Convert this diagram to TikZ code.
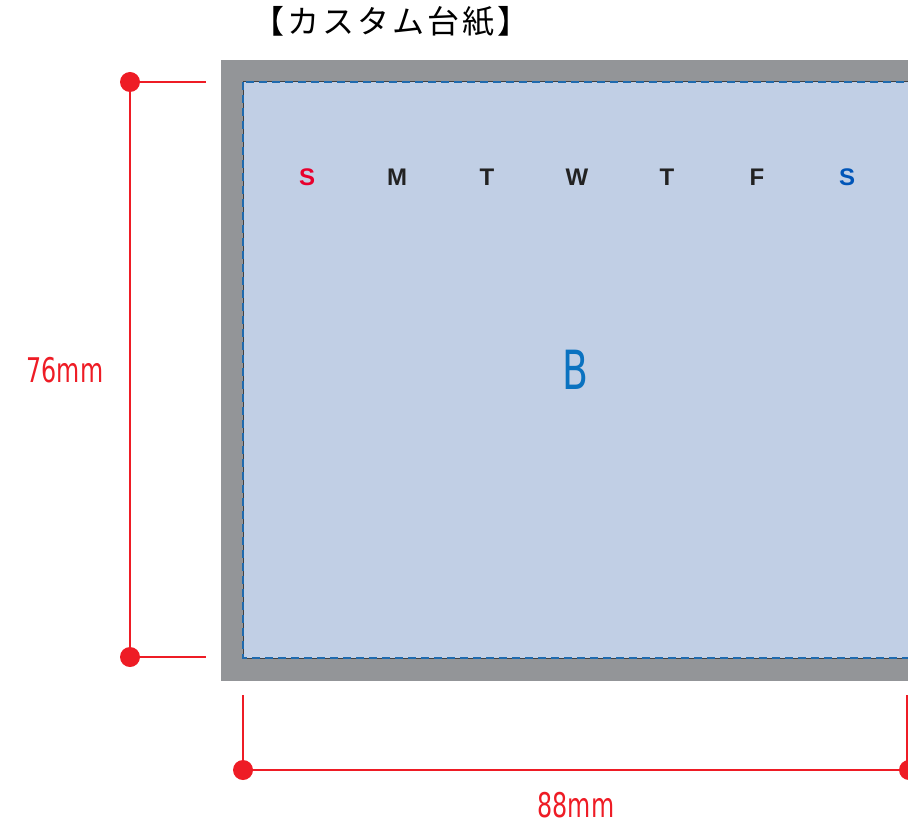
\documentclass[tikz,border=0pt]{standalone}
\usepackage{fontspec}
\setmainfont{Liberation Sans}
\newfontfamily\cjk[LetterSpace=9]{Noto Sans CJK JP}
\newfontfamily\dimfont[FakeStretch=0.7]{DejaVu Sans}
\definecolor{dimred}{HTML}{EE1C25}
\definecolor{mountgray}{HTML}{939598}
\definecolor{cardblue}{HTML}{C1CFE5}
\definecolor{edgeblue}{HTML}{1F6AAE}
\definecolor{sunred}{HTML}{E8002D}
\definecolor{satblue}{HTML}{0055B8}
\definecolor{markblue}{HTML}{0A72C0}
\definecolor{daytext}{HTML}{222222}

\begin{document}
\begin{tikzpicture}[
x=0.5pt, y=-0.5pt,
every node/.style={inner sep=0pt},
]
% \draw [help lines] (0,0) grid (908,823);

\tikzset{
	dim/.style={dimred, line width=1pt},
	dot/.style={fill=dimred},
	day/.style={font=\fontsize{12}{12}\selectfont\bfseries},
	lbl/.style={text=dimred, font=\dimfont\fontsize{17}{17}\selectfont},
}

\useasboundingbox (0,0) rectangle (908,823);

\fill[mountgray] (221,60) rectangle (940,681);
\fill[cardblue] (243,82) rectangle (940,658);
\draw[black!75, line width=0.5pt] (243,82) rectangle (940,658);
\draw[edgeblue, line width=0.6pt, dash pattern=on 4pt off 2.5pt] (243,82) rectangle (940,658);

\node[font=\cjk\fontsize{16}{16}\selectfont] (title) at (391,22) {【カスタム台紙】};

\foreach \d/\c [count=\i] in {S/sunred, M/daytext, T/daytext, W/daytext, T/daytext, F/daytext, S/satblue}
	\node[day, text=\c] (d\i) at ({307+90*(\i-1)},177) {\d};

\node[text=markblue, font=\dimfont\fontsize{27}{27}\selectfont] (mark) at (575,370) {B};

% height
\coordinate (ht) at (130,82);
\coordinate (hb) at (130,657);
\coordinate (htt) at (206,82);
\coordinate (hbt) at (206,657);
\draw[dim] (ht) -- (htt);
\draw[dim] (hb) -- (hbt);
\draw[dim] (ht) -- (hb);
\fill[dot] (ht) circle[radius=5pt];
\fill[dot] (hb) circle[radius=5pt];
\node[lbl] (hlabel) at (65,370) {76mm};

% width
\coordinate (wl) at (243,770);
\coordinate (wr) at (909,770);
\coordinate (wlt) at (243,695);
\coordinate (wrt) at (907,695);
\draw[dim] (wlt) -- (wl);
\draw[dim] (wrt) -- (907,770);
\draw[dim] (wl) -- (wr);
\fill[dot] (wl) circle[radius=5pt];
\fill[dot] (wr) circle[radius=5pt];
\node[lbl] (wlabel) at (576,805) {88mm};

\end{tikzpicture}
\end{document}
